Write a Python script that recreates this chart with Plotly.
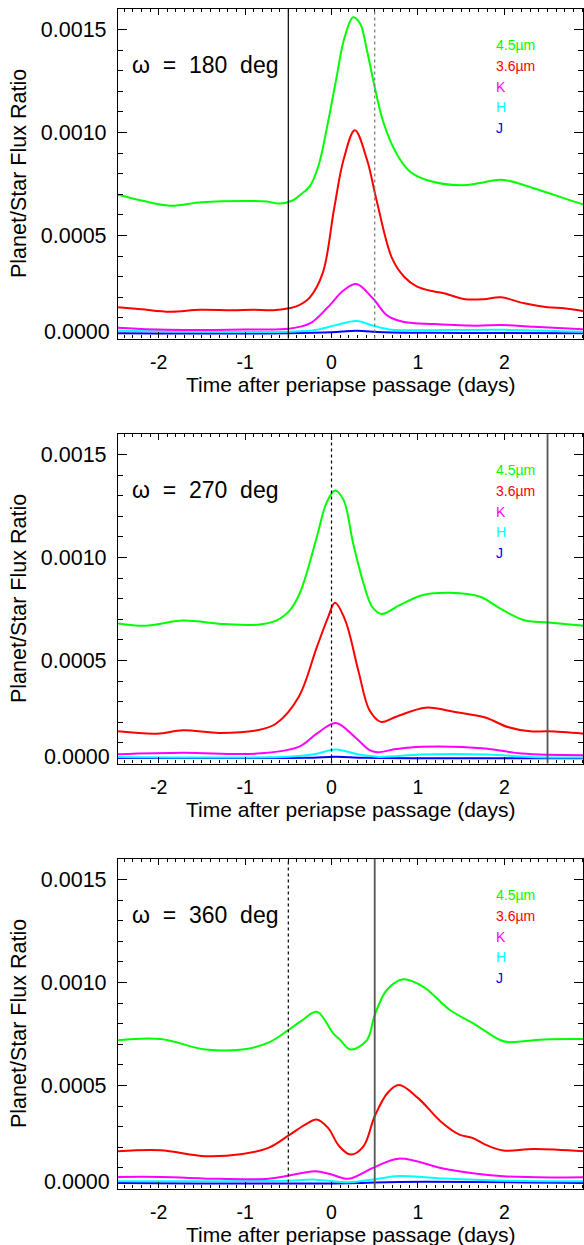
import plotly.graph_objects as go

W, H = 584, 1245

# ---------------- data (flux ratio in units of 1e-4, time in days) ----------------
omega_labels = ["180", "270", "360"]
band_names = ["4.5\u00b5m", "3.6\u00b5m", "K", "H", "J"]
band_colors = ["#00FF00", "#FF0000", "#FF00FF", "#00FFFF", "#0000FF"]

# omega = 180 deg
t180_45 = [-2.47, -2.2, -1.87, -1.5, -1.0, -0.75, -0.6, -0.45, -0.36, -0.25, -0.15, -0.05, 0.05, 0.15, 0.25, 0.33, 0.41, 0.49, 0.6, 0.75, 0.91, 1.1, 1.5, 1.72, 1.97, 2.33, 2.72, 2.92]
f180_45 = [6.98, 6.7, 6.45, 6.62, 6.68, 6.65, 6.55, 6.7, 6.98, 7.4, 8.4, 10.3, 12.5, 14.6, 15.6, 15.3, 14.0, 12.4, 10.5, 9.0, 8.1, 7.7, 7.44, 7.55, 7.71, 7.31, 6.77, 6.5]
t180_36 = [-2.47, -2.2, -1.87, -1.52, -1.14, -0.91, -0.68, -0.49, -0.38, -0.25, -0.1, 0.03, 0.14, 0.27, 0.41, 0.52, 0.7, 0.84, 0.99, 1.19, 1.30, 1.53, 1.76, 1.96, 2.23, 2.50, 2.69, 2.91]
f180_36 = [1.52, 1.42, 1.30, 1.39, 1.37, 1.40, 1.37, 1.47, 1.61, 2.0, 3.2, 6.3, 8.69, 10.11, 8.69, 6.74, 3.9, 3.0, 2.52, 2.28, 2.2, 1.92, 1.91, 2.0, 1.71, 1.52, 1.47, 1.34]
t180_K = [-2.47, -1.9, -1.0, -0.5, -0.25, -0.04, 0.14, 0.29, 0.48, 0.65, 0.84, 1.19, 1.69, 1.96, 2.34, 2.91]
f180_K = [0.52, 0.42, 0.44, 0.47, 0.73, 1.53, 2.34, 2.65, 1.94, 1.1, 0.8, 0.7, 0.62, 0.66, 0.57, 0.45]
t180_H = [-2.47, -1.5, -0.5, -0.2, 0.05, 0.29, 0.5, 0.7, 1.0, 2.0, 2.91]
f180_H = [0.38, 0.33, 0.33, 0.4, 0.65, 0.85, 0.6, 0.42, 0.4, 0.42, 0.33]
t180_J = [-2.47, -0.5, 0.0, 0.29, 0.6, 1.5, 2.91]
f180_J = [0.26, 0.25, 0.3, 0.38, 0.3, 0.27, 0.25]

# omega = 270 deg
t270_45 = [-2.47, -2.15, -1.72, -1.25, -0.86, -0.64, -0.48, -0.36, -0.17, -0.06, 0.04, 0.14, 0.25, 0.37, 0.47, 0.58, 0.79, 1.06, 1.37, 1.72, 1.95, 2.22, 2.51, 2.92]
f270_45 = [6.8, 6.69, 6.94, 6.77, 6.74, 6.94, 7.45, 8.34, 11.0, 12.63, 13.26, 12.79, 10.69, 8.75, 7.61, 7.26, 7.69, 8.18, 8.29, 8.1, 7.53, 6.97, 6.85, 6.69]
t270_36 = [-2.47, -2.02, -1.72, -1.29, -0.82, -0.64, -0.38, -0.17, -0.04, 0.04, 0.16, 0.31, 0.44, 0.57, 0.74, 1.09, 1.43, 1.78, 2.04, 2.3, 2.51, 2.92]
f270_36 = [1.56, 1.45, 1.61, 1.48, 1.65, 1.94, 3.23, 5.65, 7.1, 7.8, 6.94, 4.52, 2.58, 2.02, 2.26, 2.71, 2.5, 2.23, 1.77, 1.56, 1.56, 1.45]
t270_K = [-2.47, -1.72, -0.86, -0.38, -0.17, 0.05, 0.27, 0.44, 0.53, 0.75, 1.04, 1.78, 2.2, 2.92]
f270_K = [0.45, 0.52, 0.48, 0.81, 1.45, 1.97, 1.29, 0.65, 0.55, 0.7, 0.81, 0.73, 0.48, 0.4]
t270_H = [-2.47, -0.5, -0.2, 0.05, 0.3, 0.55, 1.04, 1.8, 2.3, 2.92]
f270_H = [0.32, 0.33, 0.45, 0.68, 0.45, 0.32, 0.44, 0.44, 0.32, 0.29]
t270_J = [-2.47, -0.3, 0.05, 0.4, 2.92]
f270_J = [0.27, 0.28, 0.33, 0.28, 0.26]

# omega = 360 deg
t360_45 = [-2.47, -1.98, -1.46, -1.03, -0.73, -0.5, -0.36, -0.17, 0.02, 0.1, 0.22, 0.41, 0.5, 0.64, 0.83, 1.06, 1.37, 1.64, 1.95, 2.04, 2.25, 2.47, 2.92]
f360_45 = [7.2, 7.26, 6.75, 6.75, 7.08, 7.69, 8.1, 8.58, 7.53, 7.21, 6.75, 7.21, 8.42, 9.64, 10.16, 9.8, 8.67, 8.02, 7.21, 7.11, 7.16, 7.24, 7.26]
t360_36 = [-2.47, -1.98, -1.46, -1.03, -0.73, -0.49, -0.3, -0.17, -0.04, 0.09, 0.22, 0.37, 0.5, 0.65, 0.78, 1.0, 1.26, 1.48, 1.63, 1.78, 1.99, 2.34, 2.92]
f360_36 = [1.81, 1.86, 1.57, 1.68, 1.97, 2.59, 3.11, 3.35, 2.94, 2.05, 1.65, 2.05, 3.51, 4.65, 5.02, 4.4, 3.27, 2.62, 2.46, 2.13, 1.84, 1.92, 1.81]
t360_K = [-2.47, -1.98, -1.3, -0.73, -0.49, -0.19, 0.0, 0.2, 0.48, 0.78, 1.35, 1.99, 2.92]
f360_K = [0.56, 0.56, 0.47, 0.47, 0.63, 0.84, 0.68, 0.47, 1.0, 1.45, 0.92, 0.59, 0.55]
t360_H = [-2.47, -0.5, -0.19, 0.2, 0.5, 0.78, 1.3, 2.0, 2.92]
f360_H = [0.35, 0.38, 0.43, 0.3, 0.45, 0.61, 0.48, 0.38, 0.35]
t360_J = [-2.47, 0.2, 0.78, 2.92]
f360_J = [0.27, 0.25, 0.32, 0.27]

# vertical marker lines (days): solid and dotted
solid_lines = [-0.5, 2.5, 0.5]
dotted_lines = [0.5, 0.0, -0.5]

x_ticks = [-2, -1, 0, 1, 2]
x_ticklabels = ["-2", "-1", "0", "1", "2"]
y_ticks = [0.0, 0.0005, 0.0010, 0.0015]
y_ticklabels = ["0.0000", "0.0005", "0.0010", "0.0015"]

x_range = [-2.471, 2.914]
y_range = [0.0, 0.0016]

panel_data = [
    [(t180_45, f180_45), (t180_36, f180_36), (t180_K, f180_K), (t180_H, f180_H), (t180_J, f180_J)],
    [(t270_45, f270_45), (t270_36, f270_36), (t270_K, f270_K), (t270_H, f270_H), (t270_J, f270_J)],
    [(t360_45, f360_45), (t360_36, f360_36), (t360_K, f360_K), (t360_H, f360_H), (t360_J, f360_J)],
]

# ---------------- layout helpers ----------------
FONT = "Liberation Sans, Arial, Helvetica, sans-serif"
LEFT, RIGHT = 118.0, 583.3
TOP0, BOT0, STEP = 9.0, 338.5, 425.0


def pxx(x):
    return x / W


def pyy(y):
    return 1 - y / H


fig = go.Figure()
annotations = []
shapes = []
layout_axes = {}

for k in range(3):
    top = TOP0 + STEP * k
    bot = BOT0 + STEP * k
    sfx = "" if k == 0 else str(k + 1)
    xname, yname = "x" + sfx, "y" + sfx

    # curves (drawn J first, 4.5um last)
    for i in reversed(range(5)):
        t, f = panel_data[k][i]
        fig.add_trace(go.Scatter(
            x=t, y=[v * 1e-4 for v in f], mode="lines",
            line=dict(color=band_colors[i], width=2, shape="spline", smoothing=1.0),
            xaxis=xname, yaxis=yname, showlegend=False, hoverinfo="skip"))

    # vertical lines
    solid_col = "#000000" if k == 0 else "#555555"
    solid_w = 1.2 if k == 0 else 1.8
    shapes.append(dict(type="line", xref=xname, yref=yname + " domain",
                       x0=solid_lines[k], x1=solid_lines[k], y0=0, y1=1,
                       line=dict(color=solid_col, width=solid_w)))
    dot_col = "#777777" if k == 0 else "#000000"
    shapes.append(dict(type="line", xref=xname, yref=yname + " domain",
                       x0=dotted_lines[k], x1=dotted_lines[k], y0=0, y1=1,
                       line=dict(color=dot_col, width=1.2, dash="dot")))

    common = dict(showline=True, linecolor="black", linewidth=1.3, mirror="ticks",
                  ticks="inside", tickcolor="black", showgrid=False, zeroline=False)
    layout_axes["xaxis" + sfx] = dict(
        domain=[pxx(LEFT), pxx(RIGHT)], anchor=yname, range=x_range,
        tickvals=x_ticks, ticktext=x_ticklabels, ticklen=6, tickwidth=1.2,
        ticklabelstandoff=6, tickfont=dict(family=FONT, size=19.5, color="black"),
        minor=dict(dtick=0.1, tick0=0, ticklen=3, tickwidth=1, ticks="inside", tickcolor="black"),
        **common)
    layout_axes["yaxis" + sfx] = dict(
        domain=[pyy(bot), pyy(top)], anchor=xname, range=y_range,
        tickvals=y_ticks, ticktext=[""] + y_ticklabels[1:], ticklen=9, tickwidth=1.2,
        ticklabelstandoff=6, tickfont=dict(family=FONT, size=21.5, color="black"),
        minor=dict(dtick=0.0001, tick0=0, ticklen=5, tickwidth=1, ticks="inside", tickcolor="black"),
        **common)

    # bottom tick label (raised slightly, as in the original)
    annotations.append(dict(text=y_ticklabels[0], x=pxx(111), y=pyy(bot - 7),
                            xref="paper", yref="paper", xanchor="right", yanchor="middle",
                            showarrow=False, borderpad=0,
                            font=dict(family=FONT, size=21.5, color="black")))
    # axis titles
    annotations.append(dict(text="Time after periapse passage (days)", x=pxx((LEFT + RIGHT) / 2),
                            y=pyy(bot + 46), xref="paper", yref="paper", xanchor="center",
                            yanchor="middle", showarrow=False, borderpad=0,
                            font=dict(family=FONT, size=21, color="black")))
    annotations.append(dict(text="Planet/Star Flux Ratio", x=pxx(19), y=pyy(top + 165),
                            xref="paper", yref="paper", xanchor="center", yanchor="middle",
                            textangle=-90, showarrow=False, borderpad=0,
                            font=dict(family=FONT, size=21.5, color="black")))
    # omega label
    annotations.append(dict(text="\u03c9\u00a0\u00a0=\u00a0\u00a0" + omega_labels[k] + "\u00a0\u00a0deg",
                            x=pxx(131), y=pyy(top + 56), xref="paper", yref="paper",
                            xanchor="left", yanchor="middle", showarrow=False, borderpad=0,
                            font=dict(family=FONT, size=23, color="black")))
    # band labels
    for i in range(5):
        annotations.append(dict(text=band_names[i], x=pxx(495), y=pyy(top + 36 + 20.75 * i),
                                xref="paper", yref="paper", xanchor="left", yanchor="middle",
                                showarrow=False, borderpad=0,
                                font=dict(family=FONT, size=14, color=band_colors[i])))

fig.update_layout(
    width=W, height=H, margin=dict(l=0, r=0, t=0, b=0),
    paper_bgcolor="white", plot_bgcolor="white",
    showlegend=False, annotations=annotations, shapes=shapes, **layout_axes)

fig.write_html("out.html")
